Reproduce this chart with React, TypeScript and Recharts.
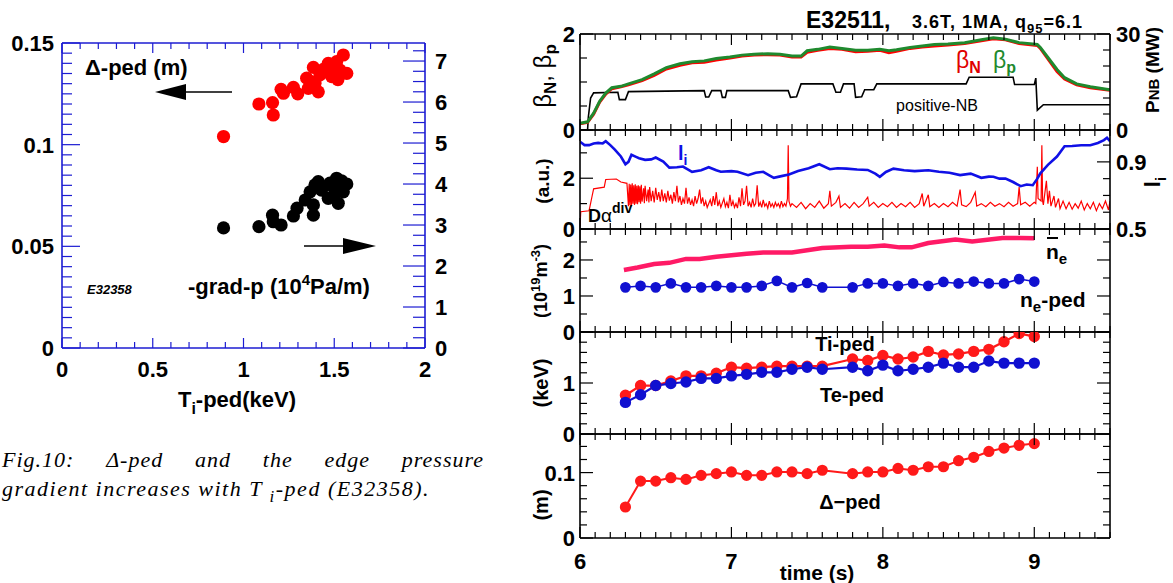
import React from 'react';
import { ComposedChart, ScatterChart, Scatter, Line, XAxis, YAxis } from 'recharts';

const SANS = '"Liberation Sans", Arial, Helvetica, sans-serif';
const SERIF = '"Liberation Serif", "Times New Roman", serif';
const BLUE_AX = '#1c1cd2';

// ---------- left figure (E32358): Ti-ped vs delta-ped / -grad-p ----------
const deltaVsTi = [
  [0.89, 0.104], [1.085, 0.120], [1.16, 0.1207], [1.164, 0.1146], [1.207, 0.1272], [1.22, 0.1253],
  [1.275, 0.1282], [1.299, 0.125], [1.348, 0.1327], [1.357, 0.1277], [1.37, 0.131], [1.385, 0.138],
  [1.394, 0.1302], [1.412, 0.126], [1.421, 0.1343], [1.44, 0.137], [1.467, 0.14], [1.486, 0.1335],
  [1.495, 0.1384], [1.513, 0.1408], [1.52, 0.132], [1.532, 0.1367], [1.55, 0.1441], [1.569, 0.1351],
];
const gradVsTi = [
  [0.89, 2.93], [1.085, 2.96], [1.16, 3.24], [1.164, 3.08], [1.207, 3.0], [1.275, 3.22], [1.295, 3.41],
  [1.34, 3.61], [1.385, 3.24], [1.385, 3.49], [1.367, 3.81], [1.394, 3.98], [1.412, 4.06], [1.43, 3.85],
  [1.467, 3.65], [1.476, 4.02], [1.495, 3.93], [1.504, 3.77], [1.513, 4.14], [1.522, 3.53], [1.532, 3.93],
  [1.54, 4.08], [1.55, 3.81], [1.569, 4.0],
];
const tiTickLabels = [0, 0.5, 1, 1.5, 2];
const deltaTickLabels = [0, 0.05, 0.1, 0.15];
const gradTickLabels = [0, 1, 2, 3, 4, 5, 6, 7];

// ---------- right figure (E32511): time traces ----------
const betaN = [
  [6.0, 0.13], [6.05, 0.16], [6.09, 0.33], [6.13, 0.58], [6.17, 0.75], [6.21, 0.86], [6.27, 0.9], [6.32, 0.94],
  [6.41, 1.03], [6.49, 1.14], [6.57, 1.27], [6.66, 1.35], [6.74, 1.4], [6.82, 1.41], [6.9, 1.46], [6.99, 1.5],
  [7.07, 1.54], [7.15, 1.56], [7.24, 1.57], [7.32, 1.56], [7.4, 1.52], [7.46, 1.52], [7.5, 1.62], [7.57, 1.66],
  [7.65, 1.7], [7.73, 1.68], [7.82, 1.63], [7.9, 1.64], [7.98, 1.66], [8.04, 1.61], [8.09, 1.64], [8.18, 1.7],
  [8.26, 1.73], [8.34, 1.75], [8.43, 1.77], [8.54, 1.8], [8.65, 1.86], [8.73, 1.9], [8.81, 1.88], [8.9, 1.8],
  [8.99, 1.77], [9.02, 1.76], [9.04, 1.7], [9.09, 1.48], [9.15, 1.22], [9.2, 1.06], [9.28, 0.94], [9.37, 0.88],
  [9.5, 0.83],
];
const betaP = [
  [6.0, 0.14], [6.05, 0.17], [6.09, 0.35], [6.13, 0.6], [6.17, 0.77], [6.21, 0.88], [6.27, 0.91], [6.32, 0.96],
  [6.41, 1.05], [6.49, 1.17], [6.57, 1.3], [6.66, 1.38], [6.74, 1.42], [6.82, 1.44], [6.9, 1.49], [6.99, 1.52],
  [7.07, 1.56], [7.15, 1.58], [7.24, 1.59], [7.32, 1.58], [7.4, 1.54], [7.46, 1.54], [7.5, 1.65], [7.57, 1.68],
  [7.65, 1.73], [7.73, 1.7], [7.82, 1.66], [7.9, 1.66], [7.98, 1.68], [8.04, 1.65], [8.09, 1.67], [8.18, 1.72],
  [8.26, 1.75], [8.34, 1.78], [8.43, 1.79], [8.54, 1.82], [8.65, 1.88], [8.73, 1.92], [8.81, 1.89], [8.9, 1.82],
  [8.99, 1.79], [9.02, 1.78], [9.04, 1.72], [9.09, 1.51], [9.15, 1.26], [9.2, 1.09], [9.28, 0.96], [9.37, 0.9],
  [9.5, 0.84],
];
const pnb = [
  [6.0, 0], [6.05, 0], [6.055, 4], [6.07, 10], [6.09, 11.6], [6.25, 11.8], [6.26, 9.5], [6.3, 9.5], [6.32, 12.0],
  [6.82, 12.3], [6.83, 10.3], [6.85, 10.3], [6.87, 12.3], [6.93, 12.3], [6.94, 10.2], [6.96, 10.2], [6.97, 12.3],
  [7.375, 12.3], [7.39, 10.2], [7.43, 10.4], [7.46, 14.4], [7.67, 14.4], [7.69, 11.8], [7.72, 11.8], [7.74, 14.4],
  [7.81, 14.4], [7.82, 10.2], [7.86, 10.4], [7.88, 12.6], [7.94, 12.6], [7.96, 14.4], [8.55, 14.4], [8.57, 16.5],
  [8.86, 16.5], [8.87, 14.2], [9.0, 14.2], [9.01, 16.2], [9.02, 6.2], [9.06, 7.9], [9.5, 7.9],
];
const li = [
  [6.0, 1.02], [6.03, 1.0], [6.06, 1.0], [6.09, 1.01], [6.12, 1.013], [6.15, 1.01], [6.17, 1.023], [6.2, 1.0],
  [6.23, 0.973], [6.27, 0.932], [6.3, 0.886], [6.32, 0.9], [6.34, 0.942], [6.37, 0.93], [6.39, 0.922], [6.43, 0.912],
  [6.47, 0.915], [6.5, 0.926], [6.55, 0.902], [6.59, 0.866], [6.64, 0.868], [6.68, 0.872], [6.74, 0.841], [6.8, 0.85],
  [6.85, 0.868], [6.9, 0.85], [6.93, 0.841], [7.0, 0.845], [7.04, 0.841], [7.11, 0.821], [7.16, 0.835], [7.21, 0.841],
  [7.25, 0.82], [7.28, 0.805], [7.33, 0.815], [7.38, 0.825], [7.44, 0.845], [7.51, 0.862], [7.58, 0.886], [7.65, 0.856],
  [7.7, 0.862], [7.76, 0.86], [7.83, 0.855], [7.9, 0.852], [7.95, 0.83], [7.98, 0.811], [8.02, 0.84], [8.07, 0.86],
  [8.14, 0.85], [8.21, 0.845], [8.3, 0.85], [8.37, 0.841], [8.44, 0.835], [8.51, 0.821], [8.58, 0.83], [8.65, 0.805],
  [8.7, 0.812], [8.73, 0.811], [8.77, 0.8], [8.81, 0.801], [8.86, 0.78], [8.91, 0.755], [8.95, 0.765], [8.99, 0.761],
  [9.02, 0.8], [9.04, 0.832], [9.09, 0.882], [9.15, 0.932], [9.2, 0.993], [9.25, 0.995], [9.31, 0.999], [9.37, 0.999],
  [9.42, 1.013], [9.46, 1.03], [9.48, 1.044], [9.5, 1.023],
];
const dAlpha = [
  [6.0, 0.1], [6.005, 0.68], [6.06, 0.72], [6.08, 1.3], [6.09, 1.58], [6.16, 1.65], [6.17, 1.95], [6.24, 1.97],
  [6.27, 1.85], [6.31, 1.8], [6.32, 0.9], [6.325, 1.78], [6.33, 0.95], [6.335, 1.75], [6.34, 0.9], [6.345, 1.8],
  [6.35, 1.0], [6.355, 1.72], [6.36, 0.95], [6.365, 1.76], [6.37, 1.0], [6.375, 1.7], [6.38, 0.98], [6.385, 1.72],
  [6.39, 1.05], [6.395, 1.68], [6.4, 1.0], [6.405, 1.74], [6.41, 1.08], [6.42, 1.6], [6.425, 1.02], [6.43, 1.7],
  [6.44, 1.1], [6.45, 1.55], [6.455, 1.05], [6.46, 1.65], [6.47, 1.1], [6.48, 1.5], [6.49, 1.05], [6.5, 1.62],
  [6.51, 1.15], [6.52, 1.45], [6.53, 1.08], [6.54, 1.55], [6.55, 1.1], [6.56, 1.4], [6.57, 1.05], [6.58, 1.5],
  [6.59, 1.12], [6.6, 1.35], [6.61, 1.0], [6.62, 1.45], [6.63, 1.1], [6.64, 1.7], [6.65, 1.05], [6.66, 1.3],
  [6.67, 0.95], [6.68, 1.2], [6.69, 1.0], [6.7, 1.62], [6.71, 1.0], [6.72, 1.25], [6.73, 0.95], [6.74, 1.15],
  [6.75, 0.9], [6.76, 1.3], [6.77, 1.0], [6.78, 1.2], [6.79, 1.55], [6.8, 1.0], [6.81, 1.25], [6.82, 0.9],
  [6.83, 1.1], [6.84, 0.85], [6.86, 1.15], [6.87, 0.9], [6.88, 1.3], [6.89, 0.95], [6.9, 1.45], [6.91, 0.9],
  [6.92, 1.1], [6.93, 0.85], [6.95, 1.2], [6.96, 0.88], [6.97, 1.05], [6.98, 0.82], [6.99, 1.35], [7.0, 0.9],
  [7.01, 1.1], [7.02, 0.85], [7.03, 1.0], [7.04, 0.82], [7.05, 1.25], [7.06, 0.9], [7.07, 1.6], [7.08, 0.95],
  [7.09, 1.1], [7.1, 1.7], [7.11, 0.9], [7.12, 1.05], [7.13, 0.85], [7.14, 1.2], [7.15, 0.9], [7.16, 1.0],
  [7.17, 1.72], [7.18, 0.88], [7.19, 1.05], [7.2, 0.85], [7.21, 1.15], [7.22, 0.9], [7.23, 1.0], [7.24, 0.82],
  [7.25, 1.1], [7.26, 0.88], [7.27, 1.0], [7.28, 0.85], [7.29, 1.05], [7.3, 0.9], [7.31, 1.0], [7.32, 0.85],
  [7.33, 1.1], [7.34, 0.88], [7.35, 1.0], [7.36, 0.9], [7.37, 1.2], [7.375, 3.3], [7.38, 1.1], [7.39, 0.9],
  [7.4, 1.0], [7.43, 0.85], [7.46, 1.05], [7.49, 0.8], [7.52, 1.0], [7.55, 0.85], [7.58, 1.1], [7.61, 0.82],
  [7.64, 1.0], [7.65, 1.5], [7.66, 0.9], [7.69, 1.05], [7.71, 1.3], [7.72, 0.85], [7.75, 1.0], [7.78, 0.82],
  [7.81, 1.05], [7.84, 0.85], [7.87, 1.0], [7.9, 1.25], [7.91, 0.9], [7.94, 1.05], [7.97, 0.85], [8.0, 1.0],
  [8.03, 0.88], [8.06, 1.05], [8.09, 0.85], [8.12, 1.0], [8.15, 0.88], [8.18, 1.05], [8.21, 0.85], [8.24, 1.0],
  [8.26, 1.4], [8.27, 0.9], [8.3, 1.35], [8.31, 0.88], [8.34, 1.0], [8.37, 0.85], [8.4, 1.0], [8.43, 0.88],
  [8.46, 1.05], [8.49, 0.9], [8.51, 1.55], [8.52, 0.95], [8.55, 0.88], [8.58, 1.05], [8.61, 1.45], [8.62, 0.9],
  [8.65, 1.0], [8.68, 0.88], [8.71, 1.05], [8.74, 0.9], [8.77, 1.0], [8.8, 0.88], [8.83, 1.05], [8.86, 0.9],
  [8.89, 1.0], [8.9, 1.65], [8.91, 0.95], [8.94, 1.05], [8.97, 0.9], [9.0, 1.05], [9.01, 1.0], [9.02, 2.45],
  [9.025, 1.2], [9.045, 1.1], [9.05, 3.3], [9.055, 1.1], [9.06, 0.95], [9.08, 1.9], [9.09, 1.0], [9.1, 1.5],
  [9.11, 0.9], [9.13, 1.3], [9.14, 0.85], [9.16, 1.2], [9.17, 0.8], [9.19, 1.1], [9.21, 0.8], [9.23, 1.05],
  [9.25, 0.78], [9.27, 1.0], [9.29, 0.82], [9.31, 1.1], [9.33, 0.75], [9.35, 1.0], [9.37, 0.8], [9.39, 1.05],
  [9.41, 0.72], [9.43, 1.0], [9.45, 0.8], [9.47, 1.1], [9.49, 0.75], [9.5, 1.1],
];
const neBar = [
  [6.29, 1.72], [6.38, 1.79], [6.49, 1.89], [6.59, 1.92], [6.7, 2.03], [6.79, 2.03], [6.9, 2.09], [7.1, 2.17],
  [7.21, 2.21], [7.4, 2.21], [7.6, 2.33], [7.79, 2.37], [7.9, 2.37], [8.01, 2.4], [8.11, 2.35], [8.19, 2.35],
  [8.3, 2.47], [8.48, 2.57], [8.59, 2.51], [8.79, 2.61], [8.91, 2.61], [9.0, 2.6],
];
const pedTimes = [
  6.3, 6.4, 6.5, 6.6, 6.7, 6.8, 6.9, 7.0, 7.1, 7.2, 7.3, 7.4, 7.5, 7.6,
  7.8, 7.9, 8.0, 8.1, 8.2, 8.3, 8.4, 8.5, 8.6, 8.7, 8.8, 8.9, 9.0,
];
const nePed = [1.24, 1.28, 1.24, 1.35, 1.24, 1.24, 1.28, 1.24, 1.24, 1.28, 1.42, 1.24, 1.36, 1.24,
  1.24, 1.35, 1.35, 1.28, 1.35, 1.28, 1.39, 1.35, 1.4, 1.35, 1.35, 1.47, 1.4];
const tiPedT = [0.76, 0.95, 0.95, 1.04, 1.14, 1.14, 1.19, 1.31, 1.29, 1.31, 1.33, 1.33, 1.33, 1.33,
  1.47, 1.44, 1.54, 1.47, 1.51, 1.62, 1.55, 1.57, 1.62, 1.66, 1.81, 1.97, 1.91];
const tePedT = [0.62, 0.77, 0.95, 0.99, 1.02, 1.09, 1.09, 1.14, 1.17, 1.21, 1.21, 1.27, 1.31, 1.27,
  1.31, 1.24, 1.35, 1.24, 1.27, 1.31, 1.39, 1.31, 1.31, 1.43, 1.39, 1.39, 1.39];
const deltaPedT = [0.0474, 0.087, 0.087, 0.0922, 0.0896, 0.0958, 0.0984, 0.101, 0.0958, 0.0958, 0.101, 0.101, 0.0984, 0.1036,
  0.0984, 0.101, 0.101, 0.1063, 0.1036, 0.1089, 0.1089, 0.1182, 0.1234, 0.1323, 0.1375, 0.1417, 0.1443];
const timeLabels = [6, 7, 8, 9];

const steps = (a: number, b: number, d: number) => {
  const out: number[] = [];
  for (let i = 0; a + i * d <= b + 1e-9; i++) out.push(Math.round((a + i * d) * 1e6) / 1e6);
  return out;
};
const pairs = (arr: number[][]) => arr.map(([t, v]) => ({ t, v }));
const zipT = (ts: number[], vs: number[]) => ts.map((t, i) => ({ t, v: vs[i] }));
const near = (a: number[] | undefined, v: number) => !!a && a.some((m) => Math.abs(m - v) < 1e-6);
const fmt = (v: number) => String(Math.round(v * 1000) / 1000);

type TickOpts = {
  side: 'left' | 'right' | 'top' | 'bottom';
  majors: number[];
  labels?: number[];
  majorLen: number;
  minorLen: number;
  color: string;
  font?: number;
  off?: number;
};

// ROOT-style ticks: drawn inward from the axis line, labels only on the listed values
function makeTick(o: TickOpts) {
  return (p: any) => {
    const { x, y, payload } = p;
    const v = payload.value;
    const len = near(o.majors, v) ? o.majorLen : o.minorLen;
    const fs = o.font ?? 21;
    let x2 = x, y2 = y, tx = x, ty = y, anchor: any = 'middle';
    if (o.side === 'bottom') { y2 = y - len; ty = y + (o.off ?? 0); }
    if (o.side === 'top') { y2 = y + len; }
    if (o.side === 'left') { x2 = x + len; tx = x - (o.off ?? 0); ty = y + fs * 0.36; anchor = 'end'; }
    if (o.side === 'right') { x2 = x - len; tx = x + (o.off ?? 0); ty = y + fs * 0.36; anchor = 'start'; }
    return (
      <g>
        <line x1={x} y1={y} x2={x2} y2={y2} stroke={o.color} strokeWidth={1.2} />
        {near(o.labels, v) && (
          <text x={tx} y={ty} textAnchor={anchor} fontFamily={SANS} fontWeight="bold" fontSize={fs} fill="#000">
            {fmt(v)}
          </text>
        )}
      </g>
    );
  };
}

const dotShape = (color: string) => (p: any) => <circle cx={p.cx} cy={p.cy} r={6.6} fill={color} />;
const noShape = () => <g />;

function LeftFigure() {
  const ax = { stroke: BLUE_AX, strokeWidth: 1.6 };
  const red = deltaVsTi.map(([x, y]) => ({ x, y }));
  const black = gradVsTi.map(([x, y]) => ({ x, y }));
  return (
    <div style={{ position: 'absolute', left: 0, top: 0 }}>
      <ScatterChart width={480} height={392} margin={{ top: 42, right: 0, bottom: 0, left: 0 }}>
        <XAxis xAxisId="b" type="number" dataKey="x" domain={[0, 2]} ticks={steps(0, 2, 0.1)} interval={0}
          height={44} tickSize={0} tickMargin={0} tickLine={false} axisLine={ax}
          tick={makeTick({ side: 'bottom', majors: tiTickLabels, labels: tiTickLabels, majorLen: 10, minorLen: 6, color: BLUE_AX, font: 22, off: 29 })} />
        <XAxis xAxisId="t" orientation="top" type="number" dataKey="x" domain={[0, 2]} ticks={steps(0, 2, 0.1)} interval={0}
          height={1} tickSize={0} tickMargin={0} tickLine={false} axisLine={ax}
          tick={makeTick({ side: 'top', majors: tiTickLabels, majorLen: 10, minorLen: 6, color: BLUE_AX })} />
        <YAxis yAxisId="L" type="number" dataKey="y" domain={[0, 0.15]} ticks={steps(0, 0.15, 0.005)} interval={0}
          width={62} tickSize={0} tickMargin={0} tickLine={false} axisLine={ax}
          tick={makeTick({ side: 'left', majors: deltaTickLabels, labels: deltaTickLabels, majorLen: 18, minorLen: 10, color: BLUE_AX, font: 22, off: 8 })} />
        <YAxis yAxisId="R" orientation="right" type="number" dataKey="y" domain={[0, 7.44]} ticks={steps(0, 7.25, 0.25)} interval={0}
          width={55} tickSize={0} tickMargin={0} tickLine={false} axisLine={ax}
          tick={makeTick({ side: 'right', majors: gradTickLabels, labels: gradTickLabels, majorLen: 22, minorLen: 12, color: BLUE_AX, font: 22, off: 10 })} />
        <Scatter xAxisId="t" yAxisId="L" data={red} shape={noShape} isAnimationActive={false} />
        <Scatter xAxisId="b" yAxisId="R" data={black} fill="#000" shape={dotShape('#000')} isAnimationActive={false} />
        <Scatter xAxisId="b" yAxisId="L" data={red} fill="#ff0000" shape={dotShape('#ff0000')} isAnimationActive={false} />
      </ScatterChart>
    </div>
  );
}

type AxisSpec = { domain: [number, number]; ticks: number[]; majors: number[]; labels?: number[] };

function Panel({ top, bottom, last, left, right, anchor, children }: {
  top: number; bottom: number; last?: boolean; left: AxisSpec; right: AxisSpec;
  anchor: { t: number; v: number }[]; children: React.ReactNode;
}) {
  const mTop = 19;
  const xH = last ? 46 : 1;
  const mBottom = last ? 0 : 14;
  const height = mTop + 1 + (bottom - top) + xH + mBottom;
  const ax = { stroke: '#000', strokeWidth: 1.6 };
  const tt = steps(6, 9.5, 0.1);
  return (
    <div style={{ position: 'absolute', left: 500, top: top - mTop - 1 }}>
      <ComposedChart width={673} height={height} margin={{ top: mTop, right: 0, bottom: mBottom, left: 0 }}>
        <XAxis dataKey="t" type="number" domain={[6, 9.5]} ticks={tt} interval={0} allowDataOverflow
          height={xH} tickSize={0} tickMargin={0} tickLine={false} axisLine={ax}
          tick={makeTick({ side: 'bottom', majors: timeLabels, labels: last ? timeLabels : undefined, majorLen: 11, minorLen: 6, color: '#000', font: 22, off: 31 })} />
        <XAxis xAxisId="top" orientation="top" dataKey="t" type="number" domain={[6, 9.5]} ticks={tt} interval={0} allowDataOverflow
          height={1} tickSize={0} tickMargin={0} tickLine={false} axisLine={ax}
          tick={makeTick({ side: 'top', majors: timeLabels, majorLen: 11, minorLen: 6, color: '#000' })} />
        <YAxis yAxisId="L" type="number" domain={left.domain} ticks={left.ticks} interval={0} allowDataOverflow
          width={80} tickSize={0} tickMargin={0} tickLine={false} axisLine={ax}
          tick={makeTick({ side: 'left', majors: left.majors, labels: left.labels, majorLen: 13, minorLen: 7, color: '#000', font: 22, off: 5 })} />
        <YAxis yAxisId="R" orientation="right" type="number" domain={right.domain} ticks={right.ticks} interval={0} allowDataOverflow
          width={63} tickSize={0} tickMargin={0} tickLine={false} axisLine={ax}
          tick={makeTick({ side: 'right', majors: right.majors, labels: right.labels, majorLen: 13, minorLen: 7, color: '#000', font: 22, off: 6 })} />
        {/* invisible series so the top and right axes draw their ticks */}
        <Line xAxisId="top" yAxisId="L" data={anchor} dataKey="v" stroke="none" dot={false} isAnimationActive={false} />
        <Line yAxisId="R" data={anchor} dataKey="v" stroke="none" dot={false} isAnimationActive={false} />
        {children}
      </ComposedChart>
    </div>
  );
}

const lineProps = { dataKey: 'v', type: 'linear' as const, isAnimationActive: false };

function RightFigure() {
  const p3 = { domain: [0, 2.86] as [number, number], ticks: steps(0, 2.5, 0.5), majors: [0, 1, 2] };
  const p4 = { domain: [0, 2] as [number, number], ticks: steps(0, 2, 0.2), majors: [0, 1, 2] };
  const p5 = { domain: [0, 0.159] as [number, number], ticks: steps(0, 0.14, 0.02), majors: [0, 0.1] };
  const ne = zipT(pedTimes, nePed);
  const ti = zipT(pedTimes, tiPedT);
  const te = zipT(pedTimes, tePedT);
  const dp = zipT(pedTimes, deltaPedT);
  return (
    <>
      <Panel top={34} bottom={130} anchor={pairs(betaP)}
        left={{ domain: [0, 2], ticks: steps(0, 2, 0.5), majors: [0, 2], labels: [0, 2] }}
        right={{ domain: [0, 30], ticks: steps(0, 30, 5), majors: [0, 30], labels: [0, 30] }}>
        <Line {...lineProps} yAxisId="R" data={pairs(pnb)} stroke="#000" strokeWidth={1.6} dot={false} />
        <Line {...lineProps} yAxisId="L" data={pairs(betaN)} stroke="#ff0000" strokeWidth={3} dot={false} />
        <Line {...lineProps} yAxisId="L" data={pairs(betaP)} stroke="#1f8a2e" strokeWidth={3} dot={false} />
      </Panel>
      <Panel top={130} bottom={229} anchor={pairs(dAlpha)}
        left={{ domain: [0, 3.9], ticks: [0, 1, 2, 3], majors: [0, 2], labels: [0, 2] }}
        right={{ domain: [0.5, 1.09], ticks: [0.5, 0.6, 0.7, 0.8, 0.9, 1.0], majors: [0.5, 0.9], labels: [0.5, 0.9] }}>
        <Line {...lineProps} yAxisId="L" data={pairs(dAlpha)} stroke="#ff0000" strokeWidth={1.2} dot={false} />
        <Line {...lineProps} yAxisId="R" data={pairs(li)} stroke="#1010e6" strokeWidth={2.6} dot={false} />
      </Panel>
      <Panel top={229} bottom={332} anchor={ne} left={{ ...p3, labels: [0, 1, 2] }} right={p3}>
        <Line {...lineProps} yAxisId="L" data={pairs(neBar)} stroke="#ff1a66" strokeWidth={4.5} dot={false} />
        <Line {...lineProps} yAxisId="L" data={ne} stroke="#1010d0" strokeWidth={1.5}
          dot={{ r: 4.6, fill: '#1010d0', stroke: '#1010d0' }} />
      </Panel>
      <Panel top={332} bottom={434} anchor={ti} left={{ ...p4, labels: [0, 1] }} right={p4}>
        <Line {...lineProps} yAxisId="L" data={ti} stroke="#ff1a1a" strokeWidth={2.2}
          dot={{ r: 4.6, fill: '#ff1a1a', stroke: '#ff1a1a' }} />
        <Line {...lineProps} yAxisId="L" data={te} stroke="#1010d0" strokeWidth={2.2}
          dot={{ r: 4.6, fill: '#1010d0', stroke: '#1010d0' }} />
      </Panel>
      <Panel top={434} bottom={538} last anchor={dp} left={{ ...p5, labels: [0, 0.1] }} right={p5}>
        <Line {...lineProps} yAxisId="L" data={dp} stroke="#ff1a1a" strokeWidth={2}
          dot={{ r: 4.6, fill: '#ff1a1a', stroke: '#ff1a1a' }} />
      </Panel>
    </>
  );
}

function Overlay() {
  const b = { fontFamily: SANS, fontWeight: 'bold' as const };
  return (
    <svg width={1173} height={583} style={{ position: 'absolute', left: 0, top: 0, pointerEvents: 'none' }}>
      {/* left figure annotations */}
      <text x={85} y={75} fontSize={22} {...b}>Δ-ped (m)</text>
      <line x1={232} y1={92} x2={183} y2={92} stroke="#000" strokeWidth={1.3} />
      <polygon points="155,92 186,84 186,100" fill="#000" />
      <line x1={304} y1={246} x2={346} y2={246} stroke="#000" strokeWidth={1.3} />
      <polygon points="376,246 343,238 343,254" fill="#000" />
      <text x={87} y={294} fontSize={13} fontStyle="italic" {...b}>E32358</text>
      <text x={188} y={294} fontSize={22} {...b}>
        -grad-p (10<tspan dy={-9} fontSize={15}>4</tspan><tspan dy={9}>Pa/m)</tspan>
      </text>
      <text x={237} y={407} fontSize={22} textAnchor="middle" {...b}>
        T<tspan dy={7} fontSize={16}>i</tspan><tspan dy={-7}>-ped(keV)</tspan>
      </text>

      {/* right figure annotations */}
      <text x={806} y={28} fontSize={23} {...b}>E32511,</text>
      <text x={912} y={28} fontSize={18} letterSpacing={1} {...b}>
        3.6T, 1MA, q<tspan dy={5} fontSize={13}>95</tspan><tspan dy={-5}>=6.1</tspan>
      </text>
      <text x={956} y={68} fontSize={23} fill="#e00000" fontFamily={SANS}>
        β<tspan dy={5} fontSize={16} fontWeight="bold">N</tspan>
      </text>
      <text x={993} y={68} fontSize={23} fill="#1f8a2e" fontFamily={SANS}>
        β<tspan dy={5} fontSize={16} fontWeight="bold">p</tspan>
      </text>
      <text x={937} y={111} fontSize={16} textAnchor="middle" fontFamily={SANS}>positive-NB</text>
      <text transform="translate(551,76) rotate(-90)" textAnchor="middle" fontSize={24} fontFamily={SANS}>
        β<tspan dy={5} fontSize={17} fontWeight="bold">N</tspan><tspan dy={-5}>, β</tspan><tspan dy={5} fontSize={17} fontWeight="bold">p</tspan>
      </text>
      <text transform="translate(1159,70) rotate(-90)" textAnchor="middle" fontSize={19} {...b}>
        P<tspan fontSize={15}>NB</tspan> (MW)
      </text>

      <text x={678} y={160} fontSize={20} fill="#1010e6" {...b}>
        l<tspan dy={5} fontSize={14}>i</tspan>
      </text>
      <text x={588} y={222} fontSize={18} {...b}>
        D<tspan fontWeight="normal" fontSize={19}>α</tspan><tspan dy={-9} fontSize={14}>div</tspan>
      </text>
      <text transform="translate(549,181) rotate(-90)" textAnchor="middle" fontSize={19} {...b}>(a.u.)</text>
      <text transform="translate(1160,182) rotate(-90)" textAnchor="middle" fontSize={22} {...b}>
        l<tspan dy={6} fontSize={15}>i</tspan>
      </text>

      <text x={1046} y={259} fontSize={21} {...b}>
        n<tspan dy={5} fontSize={15}>e</tspan>
      </text>
      <line x1={1047} y1={238} x2={1058} y2={238} stroke="#000" strokeWidth={2} />
      <text x={1020} y={307} fontSize={21} {...b}>
        n<tspan dy={5} fontSize={15}>e</tspan><tspan dy={-5}>-ped</tspan>
      </text>
      <text transform="translate(547,281) rotate(-90)" textAnchor="middle" fontSize={18} {...b}>
        (10<tspan dy={-7} fontSize={13}>19</tspan><tspan dy={7}>m</tspan><tspan dy={-7} fontSize={13}>-3</tspan><tspan dy={7}>)</tspan>
      </text>

      <text x={845} y={351} fontSize={20} textAnchor="middle" {...b}>Ti-ped</text>
      <text x={852} y={402} fontSize={20} textAnchor="middle" {...b}>Te-ped</text>
      <text transform="translate(548,383) rotate(-90)" textAnchor="middle" fontSize={20} {...b}>(keV)</text>

      <text x={850} y={509} fontSize={20} textAnchor="middle" {...b}>Δ−ped</text>
      <text transform="translate(548,505) rotate(-90)" textAnchor="middle" fontSize={20} {...b}>(m)</text>
      <text x={817} y={580} fontSize={21} textAnchor="middle" {...b}>time (s)</text>
    </svg>
  );
}

function Caption() {
  const base: React.CSSProperties = {
    position: 'absolute', left: 2, fontFamily: SERIF, fontStyle: 'italic', fontSize: 22,
    letterSpacing: 1, color: '#000', whiteSpace: 'nowrap',
  };
  return (
    <>
      <div style={{ ...base, top: 447, width: 482, textAlign: 'justify', textAlignLast: 'justify', whiteSpace: 'normal' }}>
        Fig.10: Δ-ped and the edge pressure
      </div>
      <div style={{ ...base, top: 476, letterSpacing: 1.5 }}>
        gradient increases with T <sub style={{ fontSize: 17, verticalAlign: -6 }}>i</sub>-ped (E32358).
      </div>
    </>
  );
}

export default function App() {
  return (
    <div style={{ position: 'absolute', left: 0, top: 0, width: 1173, height: 583, background: '#fff', overflow: 'hidden' }}>
      <LeftFigure />
      <RightFigure />
      <Caption />
      <Overlay />
    </div>
  );
}
